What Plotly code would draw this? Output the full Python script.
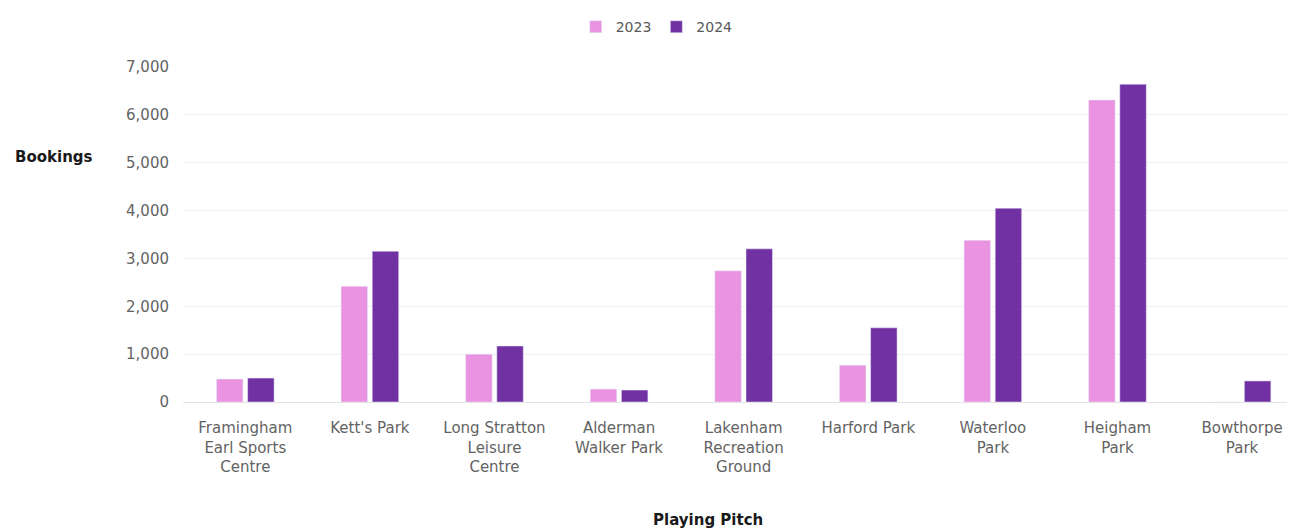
import plotly.graph_objects as go

# Bookings per playing pitch
pitches = [
    'Framingham<br>Earl Sports<br>Centre',
    "Kett's Park",
    'Long Stratton<br>Leisure<br>Centre',
    'Alderman<br>Walker Park',
    'Lakenham<br>Recreation<br>Ground',
    'Harford Park',
    'Waterloo<br>Park',
    'Heigham<br>Park',
    'Bowthorpe<br>Park',
]
bookings_2023 = [480, 2420, 1000, 270, 2740, 770, 3380, 6310, 0]
bookings_2024 = [500, 3150, 1170, 250, 3200, 1550, 4050, 6640, 440]

font_family = 'DejaVu Sans, sans-serif'

fig = go.Figure()
fig.add_trace(go.Bar(x=pitches, y=bookings_2023, name='2023', marker=dict(color='#E993E1')))
fig.add_trace(go.Bar(x=pitches, y=bookings_2024, name='2024', marker=dict(color='#7131A3')))

# page has an 8px body margin, so the figure is sized to fit inside it
fig.update_layout(
    width=1287,
    height=522,
    margin=dict(l=175, r=0, t=59, b=128),
    plot_bgcolor='white',
    paper_bgcolor='white',
    barmode='group',
    bargap=0.5,
    bargroupgap=0.15,
    font=dict(family=font_family, size=15, color='#595959'),
    legend=dict(
        orientation='h',
        x=0.426, xanchor='center',
        y=1.119, yanchor='middle',
        font=dict(size=14, color='#595959'),
        itemwidth=30,
        traceorder='normal',
    ),
    xaxis=dict(
        range=[-0.5, 8.425],
        showgrid=False,
        tickfont=dict(size=15, color='#636363'),
        ticks='outside', ticklen=12, tickcolor='rgba(0,0,0,0)',
        showline=True, linecolor='#E3E3E3',
    ),
    yaxis=dict(
        range=[0, 7000],
        dtick=1000,
        tickformat=',',
        gridcolor='#F0F0F0',
        zeroline=False,
        tickfont=dict(size=15, color='#636363'),
        ticklabelstandoff=13,
    ),
)

fig.add_annotation(
    text='<b>Bookings</b>', xref='paper', yref='paper',
    x=-0.153, y=0.731, xanchor='left', yanchor='middle',
    showarrow=False, font=dict(size=15, color='#1a1a1a', family=font_family),
)
fig.add_annotation(
    text='<b>Playing Pitch</b>', xref='paper', yref='paper',
    x=0.472, y=-0.352, xanchor='center', yanchor='middle',
    showarrow=False, font=dict(size=15, color='#1a1a1a', family=font_family),
)

fig.write_html('out.html')
